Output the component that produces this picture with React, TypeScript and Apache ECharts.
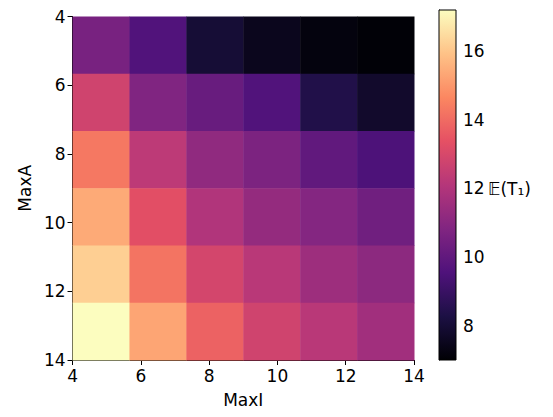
import React, { useEffect, useRef } from 'react';
import * as echarts from 'echarts';

const xEdges = [4, 5.6667, 7.3333, 9, 10.6667, 12.3333, 14];
const yEdges = [4, 5.6667, 7.3333, 9, 10.6667, 12.3333, 14];
// rows top (MaxA=4) to bottom (MaxA=14), columns MaxI 4 -> 14
const values = [
  [10.6, 9.6, 8.0, 7.5, 7.2, 7.05],
  [12.8, 10.8, 10.2, 9.6, 8.4, 7.8],
  [14.3, 12.3, 11.2, 10.7, 10.0, 9.5],
  [15.4, 13.3, 12.0, 11.3, 10.9, 10.4],
  [16.2, 14.2, 12.9, 12.2, 11.5, 11.1],
  [17.2, 15.3, 13.8, 12.8, 12.2, 11.6],
];
const xTicks = [4, 6, 8, 10, 12, 14];
const yTicks = [4, 6, 8, 10, 12, 14];
const cbTicks = [8, 10, 12, 14, 16];
const vMin = 7.0;
const vMax = 17.2;
const magma = ['#000004', '#1c1044', '#4f127b', '#812581', '#b5367a', '#e55064', '#fb8761', '#fec287', '#fcfdbf'];

const App: React.FC = () => {
  const ref = useRef<HTMLDivElement>(null);
  useEffect(() => {
    if (!ref.current) return;
    const chart = echarts.init(ref.current, null, { renderer: 'svg' });
    const cells: number[][] = [];
    values.forEach((row, r) => row.forEach((v, c) => cells.push([c, r, v])));
    const font = 'DejaVu Sans';
    const lab = { color: '#000', fontSize: 17, fontFamily: font };
    chart.setOption({
      animation: false,
      grid: [
        { left: 55, top: 2, width: 351, height: 350 },
        { left: 431, top: 2, width: 17, height: 350 },
      ],
      xAxis: [
        {
          gridIndex: 0, type: 'value', min: 4, max: 14, interval: 2,
          name: 'MaxI', nameLocation: 'middle', nameGap: 31,
          nameTextStyle: { ...lab },
          splitLine: { show: false },
          axisLine: { lineStyle: { color: '#000' } },
          axisTick: { length: 5, lineStyle: { color: '#000' } },
          axisLabel: { ...lab, margin: 7, customValues: xTicks },
        },
        { gridIndex: 1, type: 'value', min: 0, max: 1, show: false },
      ],
      yAxis: [
        {
          gridIndex: 0, type: 'value', min: 4, max: 14, interval: 2, inverse: true,
          name: 'MaxA', nameLocation: 'middle', nameGap: 38,
          nameTextStyle: { ...lab },
          splitLine: { show: false },
          axisLine: { lineStyle: { color: '#000' } },
          axisTick: { length: 5, lineStyle: { color: '#000' } },
          axisLabel: { ...lab, margin: 7, customValues: yTicks },
        },
        {
          gridIndex: 1, type: 'value', min: vMin, max: vMax, position: 'right',
          splitLine: { show: false },
          axisLine: { show: true, lineStyle: { color: '#000' } },
          axisTick: { show: true, length: 5, lineStyle: { color: '#000' }, customValues: cbTicks },
          axisLabel: { ...lab, margin: 7, customValues: cbTicks },
        },
      ],
      visualMap: {
        show: false, min: vMin, max: vMax, dimension: 2, seriesIndex: 0,
        inRange: { color: magma },
      },
      series: [
        {
          type: 'custom', xAxisIndex: 0, yAxisIndex: 0, data: cells,
          renderItem: (params: any, api: any) => {
            const c = api.value(0), r = api.value(1);
            const p0 = api.coord([xEdges[c], yEdges[r]]);
            const p1 = api.coord([xEdges[c + 1], yEdges[r + 1]]);
            return {
              type: 'rect',
              shape: { x: p0[0], y: p0[1], width: p1[0] - p0[0] + 0.5, height: p1[1] - p0[1] + 0.5 },
              style: { fill: api.visual('color') },
            };
          },
        },
        {
          type: 'custom', xAxisIndex: 1, yAxisIndex: 1, data: [[0, vMin, vMax]],
          renderItem: (params: any, api: any) => {
            const p0 = api.coord([0, api.value(2)]);
            const p1 = api.coord([1, api.value(1)]);
            return {
              type: 'rect',
              shape: { x: p0[0], y: p0[1], width: p1[0] - p0[0], height: p1[1] - p0[1] },
              style: {
                fill: new echarts.graphic.LinearGradient(0, 1, 0, 0,
                  magma.map((c, i) => ({ offset: i / (magma.length - 1), color: c }))),
                stroke: '#000', lineWidth: 1,
              },
            };
          },
        },
      ],
      graphic: [
        {
          type: 'text', left: 480, top: 172,
          style: { text: '𝔼(T₁)', fontSize: 17, fontFamily: font, fill: '#000' },
        },
      ],
    });
    return () => chart.dispose();
  }, []);
  return <div ref={ref} style={{ width: 545, height: 409 }} />;
};

export default App;
